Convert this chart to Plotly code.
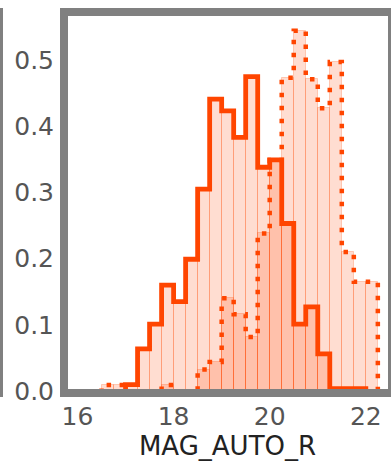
import numpy as np
import plotly.graph_objects as go

# ---- data ----
bin_start = 16.5
bin_width = 0.25
# density per bin, bins from 16.5 to 22.25 (23 bins)
solid_vals = [0.0, 0.0, 0.0125, 0.0665, 0.104, 0.163, 0.138, 0.202, 0.308, 0.444,
              0.426, 0.386, 0.478, 0.341, 0.352, 0.256, 0.104, 0.130, 0.059,
              0.0065, 0.0065, 0.0065, 0.0]
dotted_vals = [0.012, 0.012, 0.0, 0.0, 0.0, 0.012, 0.0, 0.0, 0.0355, 0.047,
               0.143, 0.119, 0.0846, 0.241, 0.352, 0.476, 0.547, 0.474, 0.430,
               0.500, 0.213, 0.168, 0.168]
x_ticks = [16, 18, 20, 22]
y_ticks = [0.0, 0.1, 0.2, 0.3, 0.4, 0.5]
x_label = "MAG_AUTO_R"

# ---- derived ----
edges = bin_start + bin_width * np.arange(len(solid_vals) + 1)
centers = (edges[:-1] + edges[1:]) / 2


def step_xy(vals):
    xs = [edges[0]] + list(edges)
    ys = [0.0] + list(vals) + [0.0]
    return xs, ys


LINE = "#ff4500"
FILL = "rgba(255,69,0,0.18)"
EDGE = "rgba(255,69,0,0.24)"
GRAY = "#808080"

fig = go.Figure()
for vals in (solid_vals, dotted_vals):
    fig.add_trace(go.Bar(x=centers, y=vals, width=bin_width,
                         marker=dict(color=FILL, line=dict(color=EDGE, width=1)),
                         showlegend=False, hoverinfo="skip"))

xs, ys = step_xy(dotted_vals)
fig.add_trace(go.Scatter(x=xs, y=ys, mode="lines", line_shape="hv",
                         line=dict(color=LINE, width=4.5, dash="4.5px,8.5px"),
                         showlegend=False, hoverinfo="skip"))
xs, ys = step_xy(solid_vals)
fig.add_trace(go.Scatter(x=xs, y=ys, mode="lines", line_shape="hv",
                         line=dict(color=LINE, width=4.8),
                         showlegend=False, hoverinfo="skip"))

W, H = 391, 461
ml, mr, mt, mb = 64, 0, 12, 68
pw = W - ml - mr
ph = H - mt - mb

# frame (drawn above the data, like thick spines)
fig.add_shape(type="rect", xref="paper", yref="paper",
              x0=0, x1=(392 - ml) / pw, y0=0, y1=1,
              line=dict(color=GRAY, width=8), fillcolor="rgba(0,0,0,0)", layer="above")
# edge of the neighbouring panel on the left
fig.add_shape(type="rect", xref="paper", yref="paper",
              x0=(0 - ml) / pw, x1=(3 - ml) / pw,
              y0=(H - mb - 397) / ph, y1=(H - mb - 8) / ph,
              fillcolor=GRAY, line=dict(width=0), layer="above")

fig.update_layout(
    width=W, height=H, autosize=False,
    margin=dict(l=ml, r=mr, t=mt, b=mb, pad=0, autoexpand=False),
    barmode="overlay", bargap=0,
    plot_bgcolor="white", paper_bgcolor="white",
    font=dict(family="DejaVu Sans", size=25, color="#555555"),
)
fig.update_xaxes(range=[15.719, 22.524], tickvals=x_ticks, automargin=False,
                 showline=False, showgrid=False, zeroline=False, ticks="",
                 ticklabelstandoff=6,
                 tickfont=dict(size=25, color="#555555"),
                 title=dict(text=x_label, font=dict(size=26, color="#222222"), standoff=12))
fig.update_yaxes(range=[0, 0.5755], tickvals=y_ticks, tickformat=".1f", automargin=False,
                 showline=False, showgrid=False, zeroline=False, ticks="",
                 ticklabelstandoff=9, ticklabelshift=-2,
                 tickfont=dict(size=25, color="#555555"))

fig.write_html("out.html", config={"displayModeBar": False},
               post_script="document.body.style.margin='0';")
